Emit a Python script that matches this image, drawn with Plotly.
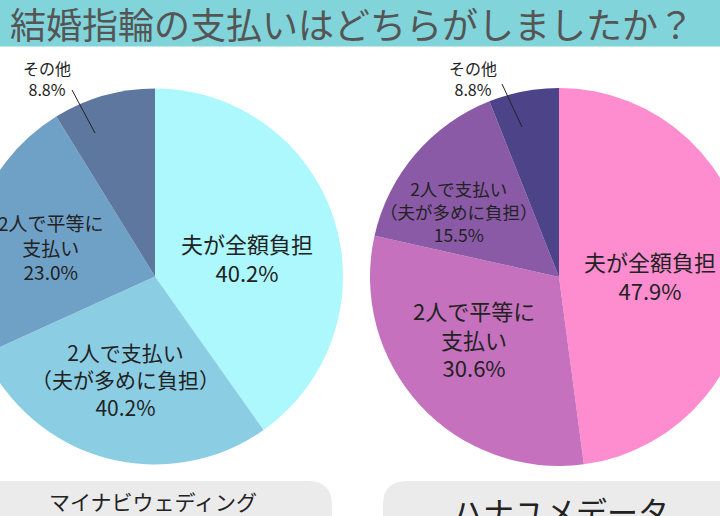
import plotly.graph_objects as go

# --------------------------------
# Data
# --------------------------------
TITLE = "結婚指輪の支払いはどちらがしましたか？"

LEFT_SOURCE = ["マイナビウェディング", "データ"]
LEFT_LABELS = ["夫が全額負担", "2人で支払い<br>（夫が多めに負担）", "2人で平等に<br>支払い", "その他"]
LEFT_VALUES = [40.2, 28.0, 23.0, 8.8]          # slice sizes as drawn
LEFT_PCT = ["40.2%", "40.2%", "23.0%", "8.8%"]  # printed labels
LEFT_COLORS = ["#adf8fc", "#8bcee3", "#6fa0c6", "#5e779f"]

RIGHT_SOURCE = "ハナユメデータ"
RIGHT_LABELS = ["夫が全額負担", "2人で平等に<br>支払い", "2人で支払い<br>（夫が多めに負担）", "その他"]
RIGHT_VALUES = [47.9, 30.6, 15.5, 6.0]
RIGHT_PCT = ["47.9%", "30.6%", "15.5%", "8.8%"]
RIGHT_COLORS = ["#fe8dd0", "#c571bd", "#8a5aa6", "#4d4389"]

# --------------------------------
# Layout config (screen pixels)
# --------------------------------
W, H = 790, 516
OFF = 34            # figure is shifted left by this many px in the page
FONT = "Noto Sans CJK JP"
TXT = "#222222"

LEFT_PIE = (155, 276.5, 188)   # cx, cy, r
RIGHT_PIE = (559, 277, 189)

# label centre (x, y) and font size, per slice
LEFT_POS = [(247, 257, 22), (125, 379, 21), (51, 247, 19), (47, 78, 16)]
RIGHT_POS = [(650, 275, 22), (474, 338, 22), (459, 211, 17.5), (473, 78, 16)]
LEFT_LEADER = (72, 90, 95, 133)
RIGHT_LEADER = (502, 84, 522, 127)


def fx(x):
    return (x + OFF) / W


def fy(y):
    return 1 - y / H


def pie_domain(cx, cy, r):
    return dict(x=[fx(cx - r), fx(cx + r)], y=[fy(cy + r), fy(cy - r)])


fig = go.Figure()

for labels, values, colors, geom in [
    (LEFT_LABELS, LEFT_VALUES, LEFT_COLORS, LEFT_PIE),
    (RIGHT_LABELS, RIGHT_VALUES, RIGHT_COLORS, RIGHT_PIE),
]:
    fig.add_trace(go.Pie(
        labels=[l.replace("<br>", "") for l in labels],
        values=values,
        marker=dict(colors=colors, line=dict(width=0)),
        sort=False, direction="clockwise", rotation=0,
        textinfo="none", showlegend=False,
        domain=pie_domain(*geom),
    ))

annotations = []
for labels, pcts, pos in [(LEFT_LABELS, LEFT_PCT, LEFT_POS), (RIGHT_LABELS, RIGHT_PCT, RIGHT_POS)]:
    for lab, pct, (x, y, size) in zip(labels, pcts, pos):
        annotations.append(dict(
            x=fx(x), y=fy(y), xref="paper", yref="paper",
            text=f"{lab}<br>{pct}", showarrow=False,
            xanchor="center", yanchor="middle",
            font=dict(family=FONT, size=size, color=TXT),
        ))

# title
annotations.append(dict(
    x=fx(8), y=fy(23), xref="paper", yref="paper", text=TITLE,
    showarrow=False, xanchor="left", yanchor="middle",
    font=dict(family=FONT, size=36, color="#555555"),
))

# source boxes text
annotations.append(dict(
    x=fx(153), y=fy(501), xref="paper", yref="paper", text=LEFT_SOURCE[0],
    showarrow=False, xanchor="center", yanchor="middle",
    font=dict(family=FONT, size=21, color=TXT),
))
annotations.append(dict(
    x=fx(153), y=fy(526), xref="paper", yref="paper", text=LEFT_SOURCE[1],
    showarrow=False, xanchor="center", yanchor="middle",
    font=dict(family=FONT, size=21, color=TXT),
))
annotations.append(dict(
    x=fx(560), y=fy(510), xref="paper", yref="paper", text=RIGHT_SOURCE,
    showarrow=False, xanchor="center", yanchor="middle",
    font=dict(family=FONT, size=31, color=TXT),
))


def rounded_box(x0, y0, x1, y1, r):
    X0, X1 = fx(x0), fx(x1)
    Y0, Y1 = fy(y0), fy(y1)
    rx, ry = r / W, r / H
    return (f"M {X0} {Y1} L {X0} {Y0 - ry} Q {X0} {Y0} {X0 + rx} {Y0} "
            f"L {X1 - rx} {Y0} Q {X1} {Y0} {X1} {Y0 - ry} L {X1} {Y1} Z")


shapes = [
    dict(type="rect", xref="paper", yref="paper", x0=0, x1=1, y0=fy(46.5), y1=1,
         fillcolor="#80d4da", line=dict(width=0), layer="below"),
    dict(type="path", xref="paper", yref="paper", path=rounded_box(-40, 481, 332, 540, 24),
         fillcolor="#ebebeb", line=dict(width=0), layer="below"),
    dict(type="path", xref="paper", yref="paper", path=rounded_box(383, 481, 760, 540, 24),
         fillcolor="#ebebeb", line=dict(width=0), layer="below"),
]
for x0, y0, x1, y1 in [LEFT_LEADER, RIGHT_LEADER]:
    shapes.append(dict(type="line", xref="paper", yref="paper",
                       x0=fx(x0), y0=fy(y0), x1=fx(x1), y1=fy(y1),
                       line=dict(color="#222222", width=1)))

fig.update_layout(
    width=W, height=H,
    margin=dict(l=0, r=0, t=0, b=0),
    paper_bgcolor="white", plot_bgcolor="white",
    annotations=annotations, shapes=shapes,
    font=dict(family=FONT),
)

SHIFT_JS = (
    "var gd=document.getElementById('{plot_id}');"
    "document.documentElement.style.overflow='hidden';"
    "document.body.style.margin='0';document.body.style.overflow='hidden';"
    f"gd.style.marginLeft='-{OFF}px';"
)

fig.write_html("out.html", post_script=SHIFT_JS, config={"displayModeBar": False})
